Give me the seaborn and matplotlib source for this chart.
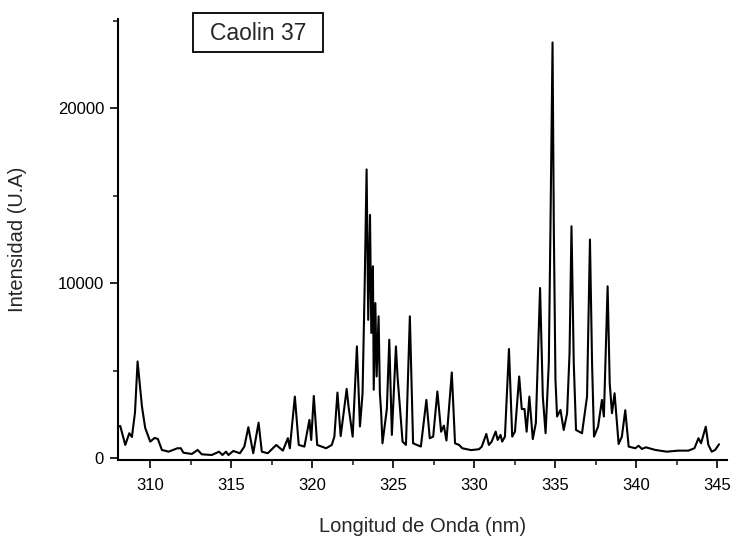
import matplotlib
matplotlib.use("Agg")
import matplotlib.pyplot as plt
from matplotlib.patches import Rectangle
from matplotlib.ticker import MultipleLocator
import seaborn as sns
import pandas as pd

# Wavelength (nm) and intensity (U.A.)
wavelength = [
    308.00, 308.14, 308.45, 308.70, 308.86, 309.05, 309.21, 309.35, 309.48, 309.68,
    309.99, 310.26, 310.46, 310.71, 311.12, 311.67, 311.88, 312.04, 312.56, 312.92,
    313.17, 313.79, 314.24, 314.45, 314.67, 314.82, 315.12, 315.53, 315.80, 316.05,
    316.35, 316.68, 316.88, 317.25, 317.77, 318.18, 318.49, 318.61, 318.92, 319.16,
    319.51, 319.82, 319.93, 320.09, 320.30, 320.85, 321.20, 321.36, 321.55, 321.75,
    322.12, 322.24, 322.49, 322.75, 322.94, 323.10, 323.23, 323.35, 323.45, 323.56,
    323.64, 323.74, 323.79, 323.89, 323.97, 324.09, 324.17, 324.25, 324.33, 324.60,
    324.75, 324.91, 325.16, 325.26, 325.57, 325.78, 326.02, 326.22, 326.70, 327.04,
    327.25, 327.46, 327.72, 327.95, 328.12, 328.28, 328.61, 328.81, 329.06, 329.26,
    329.80, 330.29, 330.46, 330.74, 330.90, 331.07, 331.32, 331.44, 331.62, 331.72,
    331.89, 332.14, 332.34, 332.51, 332.77, 332.93, 333.10, 333.23, 333.40, 333.61,
    333.80, 334.06, 334.23, 334.40, 334.60, 334.70, 334.83, 334.91, 335.01, 335.11,
    335.32, 335.52, 335.73, 335.88, 336.00, 336.14, 336.28, 336.65, 336.96, 337.14,
    337.27, 337.39, 337.64, 337.88, 338.00, 338.23, 338.36, 338.50, 338.66, 338.91,
    339.11, 339.32, 339.53, 339.94, 340.14, 340.35, 340.59, 341.17, 341.88, 342.60,
    343.22, 343.59, 343.84, 344.00, 344.29, 344.45, 344.66, 344.87, 345.11,
]
intensity = [
    1800, 1830, 745, 1415, 1200, 2600, 5520, 4200, 2940, 1720,
    935, 1145, 1090, 460, 360, 555, 555, 300, 230, 460,
    210, 170, 360, 170, 360, 170, 400, 270, 650, 1760,
    270, 2020, 360, 270, 745, 420, 1130, 555, 3510, 745,
    650, 2180, 1030, 3550, 745, 555, 745, 1220, 3740, 1250,
    3950, 2900, 1220, 6380, 1800, 3700, 9800, 16500, 7900, 13900,
    7150, 10960, 3900, 8860, 4660, 8100, 3700, 2580, 840, 2800,
    6760, 1320, 6380, 4660, 935, 745, 8100, 840, 650, 3320,
    1130, 1220, 3800, 1500, 1850, 1000, 4890, 840, 745, 555,
    450, 500, 650, 1375, 745, 935, 1510, 1030, 1320, 935,
    1220, 6230, 1220, 1510, 4660, 2800, 2800, 1500, 3510, 1080,
    2000, 9720, 3510, 1415, 5430, 13060, 23760, 13060, 4470, 2370,
    2750, 1600, 2560, 6000, 13250, 5430, 1600, 1415, 3510, 12490,
    5430, 1220, 1790, 3320, 2370, 9815, 4280, 2560, 3700, 800,
    1220, 2730, 650, 555, 700, 515, 610, 460, 360, 420,
    420, 555, 1130, 840, 1790, 745, 360, 460, 785,
]

x_ticks = [310, 315, 320, 325, 330, 335, 340, 345]
y_ticks = [0, 10000, 20000]
title_text = "Caolin 37"
x_label = "Longitud de Onda (nm)"
y_label = "Intensidad (U.A)"

df = pd.DataFrame({"wl": wavelength, "I": intensity})

sns.set_style("ticks")
plt.rcParams["font.family"] = ["Liberation Sans", "DejaVu Sans"]

fig = plt.figure(figsize=(7.31, 5.39), dpi=100)
ax = fig.add_axes([0.1614, 0.1466, 0.8331, 0.8181])

sns.lineplot(data=df, x="wl", y="I", ax=ax, color="black", linewidth=1.5,
             estimator=None, sort=False)

ax.set_xlim(308, 345.6)
ax.set_ylim(-115, 25100)
ax.set_xticks(x_ticks)
ax.set_yticks(y_ticks)
ax.xaxis.set_minor_locator(MultipleLocator(2.5))
ax.yaxis.set_minor_locator(MultipleLocator(5000))
ax.tick_params(axis="both", which="major", direction="out", length=6, width=1.2,
               labelsize=12, colors="black")
ax.tick_params(axis="x", which="major", pad=7)
ax.tick_params(axis="y", which="major", pad=4)
ax.tick_params(axis="both", which="minor", direction="out", length=3.5, width=1.2)
for s in ["top", "right"]:
    ax.spines[s].set_visible(False)
for s in ["left", "bottom"]:
    ax.spines[s].set_linewidth(1.5)
    ax.spines[s].set_color("black")

ax.set_xlabel(x_label, fontsize=14.5, labelpad=17)
ax.set_ylabel(y_label, fontsize=14.5, labelpad=22)

# boxed title
fig.patches.append(Rectangle((193 / 731, 1 - 52 / 539), 130 / 731, 39 / 539,
                             transform=fig.transFigure, fill=False,
                             edgecolor="black", linewidth=1.3))
fig.text(258 / 731, 1 - 33 / 539, title_text, ha="center", va="center", fontsize=16.5)

fig.savefig("out.png", dpi=100)
